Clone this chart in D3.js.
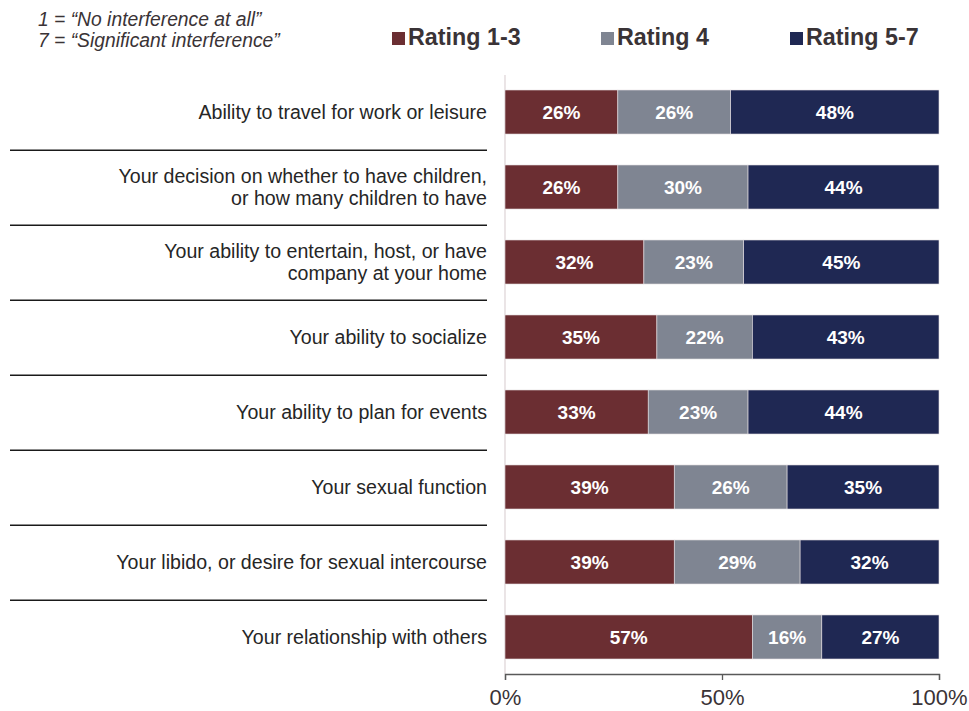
<!DOCTYPE html>
<html>
<head>
<meta charset="utf-8">
<script src="https://cdn.jsdelivr.net/npm/d3@7"></script>
<style>
  html, body { margin: 0; padding: 0; background: #fff; }
  svg { display: block; font-family: "Liberation Sans", Arial, sans-serif; }
</style>
</head>
<body>
<svg id="chart" width="969" height="711"></svg>
<script>
// Items rated on a 1–7 interference scale (top to bottom)
const categories = [
  ["Ability to travel for work or leisure"],
  ["Your decision on whether to have children,", "or how many children to have"],
  ["Your ability to entertain, host, or have", "company at your home"],
  ["Your ability to socialize"],
  ["Your ability to plan for events"],
  ["Your sexual function"],
  ["Your libido, or desire for sexual intercourse"],
  ["Your relationship with others"]
];
const seriesNames = ["Rating 1-3", "Rating 4", "Rating 5-7"];
const rating13 = [26, 26, 32, 35, 33, 39, 39, 57];
const rating4  = [26, 30, 23, 22, 23, 26, 29, 16];
const rating57 = [48, 44, 45, 43, 44, 35, 32, 27];
const tickValues = [0, 50, 100];
const noteLines = ["1 = \u201CNo interference at all\u201D", "7 = \u201CSignificant interference\u201D"];

const colors = ["#6B2E32", "#7F8592", "#1F2853"];

const svg = d3.select("#chart");

const rows = categories.map((c, i) => ({
  key: c.join(" "),
  lines: c,
  values: [rating13[i], rating4[i], rating57[i]]
}));

const x = d3.scaleLinear().domain([0, 100]).range([505, 939]);
const y = d3.scaleBand()
  .domain(rows.map(d => d.key))
  .range([74.5, 674.5])
  .paddingInner(0.413)
  .paddingOuter(0.2067);

// Stack the three rating groups
const stacked = d3.stack().keys([0, 1, 2]).value((d, k) => d.values[k])(rows);

// Light vertical baseline at 0%
svg.append("line")
  .attr("x1", x(0)).attr("x2", x(0))
  .attr("y1", 75).attr("y2", 674)
  .attr("stroke", "#ddd3d5").attr("stroke-width", 1.2);

// Separators between category labels
const sepY = rows.slice(0, -1).map(d => y(d.key) + y.bandwidth() + (y.step() - y.bandwidth()) / 2 + 0.8);
svg.append("g").selectAll("line").data(sepY).join("line")
  .attr("x1", 10).attr("x2", 487)
  .attr("y1", d => d).attr("y2", d => d)
  .attr("stroke", "#1a1a1a").attr("stroke-width", 1.5);

// Bars
const layer = svg.append("g").selectAll("g").data(stacked).join("g")
  .attr("fill", (d, i) => colors[i]);
layer.selectAll("rect").data(d => d).join("rect")
  .attr("x", d => x(d[0]))
  .attr("width", d => x(d[1]) - x(d[0]))
  .attr("y", d => y(d.data.key))
  .attr("height", y.bandwidth())
  .attr("stroke", "#e6e1e3").attr("stroke-width", 0.6);

// Value labels inside segments
layer.selectAll("text").data(d => d).join("text")
  .attr("x", d => (x(d[0]) + x(d[1])) / 2)
  .attr("y", d => y(d.data.key) + y.bandwidth() / 2 + 7)
  .attr("text-anchor", "middle")
  .attr("fill", "#fff")
  .attr("font-weight", "bold")
  .attr("font-size", "19px")
  .text(d => (d[1] - d[0]) + "%");

// Category labels (right-aligned, optionally two lines)
const labelG = svg.append("g");
rows.forEach(r => {
  const cy = y(r.key) + y.bandwidth() / 2;
  const lh = 22.5;
  const top = cy - (r.lines.length - 1) * lh / 2 + 7;
  const t = labelG.append("text")
    .attr("text-anchor", "end")
    .attr("font-size", "19.6px")
    .attr("fill", "#262626");
  r.lines.forEach((ln, j) => {
    t.append("tspan").attr("x", 487).attr("y", top + j * lh).text(ln);
  });
});

// Bottom axis
const axis = d3.axisBottom(x)
  .tickValues(tickValues)
  .tickFormat(d => d + "%")
  .tickSize(6)
  .tickSizeOuter(6)
  .tickPadding(9);
const ax = svg.append("g").attr("transform", "translate(0,674)").call(axis);
ax.select(".domain").attr("stroke", "#595959").attr("stroke-width", 1.3);
ax.selectAll(".tick line").attr("stroke", "#595959").attr("stroke-width", 1.3);
ax.selectAll(".tick text")
  .attr("font-size", "22px")
  .attr("font-family", "Liberation Sans, Arial, sans-serif")
  .attr("fill", "#3a3336");

// Scale note
svg.append("g").selectAll("text").data(noteLines).join("text")
  .attr("x", 38)
  .attr("y", (d, i) => 26 + i * 21)
  .attr("font-size", "19.3px")
  .attr("font-style", "italic")
  .attr("fill", "#3a3336")
  .text(d => d);

// Legend
const legendX = [392, 601, 790];
const lg = svg.append("g").selectAll("g").data(seriesNames).join("g")
  .attr("transform", (d, i) => `translate(${legendX[i]},0)`);
lg.append("rect")
  .attr("x", 0).attr("y", 32).attr("width", 13).attr("height", 13)
  .attr("fill", (d, i) => colors[i]);
lg.append("text")
  .attr("x", 16).attr("y", 45)
  .attr("font-size", "23.3px")
  .attr("font-weight", "bold")
  .attr("fill", "#3a3336")
  .text(d => d);
</script>
</body>
</html>
